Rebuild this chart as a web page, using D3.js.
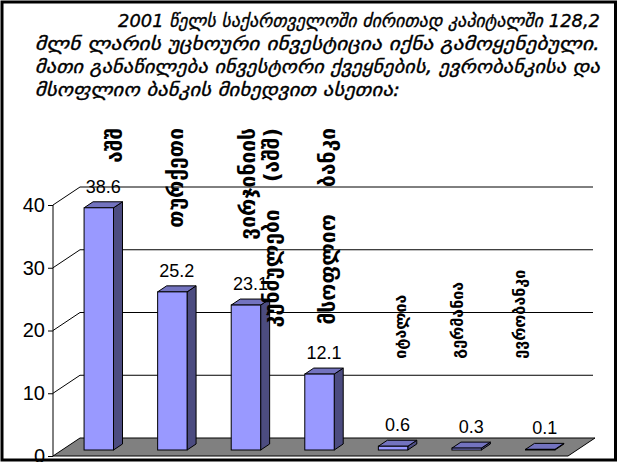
<!DOCTYPE html>
<html><head><meta charset="utf-8">
<script src="https://cdn.jsdelivr.net/npm/d3@7"></script>
<style>body{margin:0;background:#fff}</style>
</head><body>
<svg id="c" width="618" height="462"></svg>
<script>
// ---- data ----
const titleLines = [
  "2001 წელს საქართველოში ძირითად კაპიტალში 128,2",
  "მლნ ლარის უცხოური ინვესტიცია იქნა გამოყენებული.",
  "მათი განაწილება ინვესტორი ქვეყნების, ევრობანკისა და",
  "მსოფლიო ბანკის მიხედვით ასეთია:"
];
const categories = [["აშშ"], ["თურქეთი"], ["ვირჯინიის", "კუნძულები (აშშ)"], ["მსოფლიო ბანკი"], ["იტალია"], ["გერმანია"], ["ევრობანკი"]];
const values = [38.6, 25.2, 23.1, 12.1, 0.6, 0.3, 0.1];
const yTicks = [0, 10, 20, 30, 40];

// ---- layout ----
const W = 618, H = 462;
const L = 53, R = 568, B = 456, T = 205;
const DX = 27, DY = -18;          // wall depth
const bdx = 9, bdy = -6;          // bar depth / offset
const labelShift = [16, 3, 14, 8, 7, -9, -21];
const titleEnds = [600, 600, 600, 400];
const geoFont = "'DejaVu Sans', sans-serif";
const numFont = "'Liberation Sans', Arial, sans-serif";

const svg = d3.select("#c");
svg.append("rect").attr("x", 2).attr("y", 2).attr("width", W - 4.5).attr("height", H - 4)
  .attr("fill", "#fff").attr("stroke", "#000").attr("stroke-width", 3);

// title
const title = svg.append("g").attr("font-family", geoFont).attr("font-style", "italic")
  .attr("font-size", 18.5).attr("fill", "#000").attr("stroke", "#000").attr("stroke-width", 0.35);
titleLines.forEach((t, i) => {
  const x0 = i === 0 ? 118 : 35;
  title.append("text").attr("x", x0).attr("y", 27 + i * 23).text(t)
    .attr("textLength", titleEnds[i] - x0).attr("lengthAdjust", "spacingAndGlyphs");
});

const x = d3.scaleBand().domain(d3.range(values.length)).range([L, R]).paddingInner(0.6).paddingOuter(0.3);
const y = d3.scaleLinear().domain([0, 40]).range([B, T]);
const bw = x.bandwidth();

// floor
svg.append("path")
  .attr("d", `M${L},${B}L${R},${B}L${R + DX},${B + DY}L${L + DX},${B + DY}Z`)
  .attr("fill", "#808080").attr("stroke", "#000");

// gridlines (back wall + side wall)
const grid = svg.append("g").attr("stroke", "#000").attr("fill", "none");
yTicks.filter(t => t > 0).forEach(t => {
  grid.append("path").attr("d", `M${L},${y(t)}L${L + DX},${y(t) + DY}L${R + DX - 2},${y(t) + DY}`);
});

// axis
const ax = svg.append("g").attr("transform", `translate(${L},0)`)
  .call(d3.axisLeft(y).tickValues(yTicks).tickSize(5).tickPadding(3).tickFormat(d3.format("d")));
ax.select(".domain").attr("stroke", "#000").attr("d", `M0,${B}V${T}`);
ax.selectAll(".tick line").attr("stroke", "#000");
ax.selectAll("text").attr("font-family", numFont).attr("font-size", 20).attr("fill", "#000");

// bars
const bars = svg.append("g").attr("stroke", "#000").attr("stroke-width", 1);
values.forEach((v, i) => {
  const xb = x(i) + bdx, yb = B + bdy, yt = y(v) + bdy;
  bars.append("path").attr("fill", "#4C4C80")
    .attr("d", `M${xb + bw},${yt}L${xb + bw + bdx},${yt + bdy}L${xb + bw + bdx},${yb + bdy}L${xb + bw},${yb}Z`);
  bars.append("path").attr("fill", "#7373BF")
    .attr("d", `M${xb},${yt}L${xb + bdx},${yt + bdy}L${xb + bw + bdx},${yt + bdy}L${xb + bw},${yt}Z`);
  bars.append("rect").attr("fill", "#9999FF").attr("x", xb).attr("y", yt).attr("width", bw).attr("height", yb - yt);
  svg.append("text").attr("x", xb + bw / 2 + bdx / 2).attr("y", yt + bdy - 9)
    .attr("text-anchor", "middle").attr("font-family", numFont).attr("font-size", 18)
    .text(d3.format(".1f")(v));
});

// category labels (rotated)
const cl = svg.append("g").attr("font-family", geoFont).attr("font-weight", "bold").attr("fill", "#000");
categories.forEach((lines, i) => {
  const cx = x(i) + bw / 2 + bdx + labelShift[i];
  const high = values[i] > 5;
  const fs = high ? 21 : 16;
  lines.forEach((ln, k) => {
    const lx = cx + (k - (lines.length - 1) / 2) * 24;
    const ly = high ? 128 : y(15.5);
    const t = cl.append("text").attr("font-size", fs)
      .attr("transform", `translate(${lx},${ly}) rotate(-90)`)
      .attr("text-anchor", high ? "end" : "start").attr("dy", "0.35em");
    ln.split(" ").forEach((w, j) => t.append("tspan").attr("dx", j ? 20 : 0).text((j ? " " : "") + w));
  });
});
</script>
</body></html>
